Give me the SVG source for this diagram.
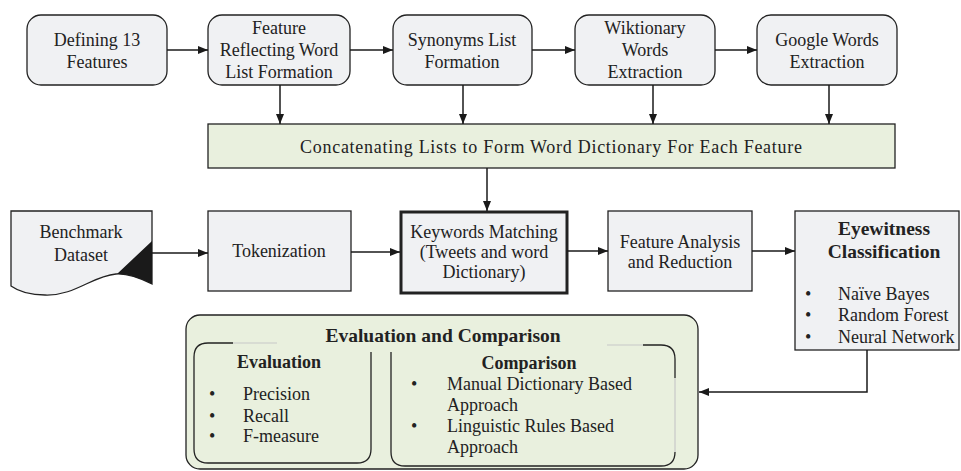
<svg xmlns="http://www.w3.org/2000/svg" width="961" height="471" viewBox="0 0 961 471">
<defs>
<marker id="ah" markerWidth="10" markerHeight="8" refX="10" refY="4" orient="auto" markerUnits="userSpaceOnUse">
<path d="M0,0 L10,4 L0,8 Z" fill="#1a1a1a"/>
</marker>
<style>
.box{fill:#f0f1f3;stroke:#222;stroke-width:1.3}
.grn{fill:#e9f0de;stroke:#222;stroke-width:1.3}
.t{font-family:"Liberation Serif","Times New Roman",serif;font-size:18px;fill:#222;text-anchor:middle}
.l{font-family:"Liberation Serif","Times New Roman",serif;font-size:18px;fill:#222}
.b{font-family:"Liberation Serif","Times New Roman",serif;font-size:19.5px;font-weight:bold;fill:#222;text-anchor:middle}
.c{fill:none;stroke:#1a1a1a;stroke-width:1.5;marker-end:url(#ah)}
.ln{fill:none;stroke:#222;stroke-width:1.3}
.lt{fill:none;stroke:#c8c8c8;stroke-width:1.2}
</style>
</defs>
<rect width="961" height="471" fill="#fff"/>

<g id="n1"><rect class="box" x="27" y="15" width="140" height="70" rx="14"/>
<text class="t" x="97" y="46">Defining 13</text><text class="t" x="97" y="68">Features</text></g>
<g id="n2"><rect class="box" x="208" y="15" width="142" height="70" rx="14"/>
<text class="t" x="279" y="34">Feature</text><text class="t" x="279" y="56">Reflecting Word</text><text class="t" x="279" y="78">List Formation</text></g>
<g id="n3"><rect class="box" x="393" y="15" width="139" height="70" rx="14"/>
<text class="t" x="462" y="46">Synonyms List</text><text class="t" x="462" y="68">Formation</text></g>
<g id="n4"><rect class="box" x="575" y="15" width="140" height="70" rx="14"/>
<text class="t" x="645" y="34">Wiktionary</text><text class="t" x="645" y="56">Words</text><text class="t" x="645" y="78">Extraction</text></g>
<g id="n5"><rect class="box" x="757" y="15" width="140" height="70" rx="14"/>
<text class="t" x="827" y="46">Google Words</text><text class="t" x="827" y="68">Extraction</text></g>

<g id="n6"><rect class="grn" x="208" y="124" width="687" height="44"/>
<text class="t" x="551" y="153" textLength="502" lengthAdjust="spacing">Concatenating Lists to Form Word Dictionary For Each Feature</text></g>

<g id="n7">
<path class="box" d="M11,211 H152 V284 C140,278 128,273 116,274 C92,276 75,296 45,295 C30,295 18,291 11,286 Z"/>
<path d="M152,241 L117,274 C130,274 142,279 152,284 Z" fill="#1a1a1a"/>
<text class="t" x="81" y="238">Benchmark</text><text class="t" x="81" y="261">Dataset</text></g>
<g id="n8"><rect class="box" x="208" y="211" width="143" height="80"/>
<text class="t" x="279" y="257">Tokenization</text></g>
<g id="n9"><rect class="box" x="401" y="212" width="166" height="81" style="stroke-width:3"/>
<text class="t" x="484" y="238">Keywords Matching</text><text class="t" x="484" y="258">(Tweets and word</text><text class="t" x="484" y="278">Dictionary)</text></g>
<g id="n10"><rect class="box" x="608" y="211" width="144" height="80"/>
<text class="t" x="680" y="248">Feature Analysis</text><text class="t" x="680" y="268">and Reduction</text></g>
<g id="n11"><rect class="box" x="795" y="211" width="164" height="139"/>
<text class="b" x="884" y="235">Eyewitness</text><text class="b" x="884" y="258">Classification</text>
<text class="l" x="805" y="300">•</text><text class="l" x="838" y="300">Naïve Bayes</text>
<text class="l" x="805" y="321">•</text><text class="l" x="838" y="321">Random Forest</text>
<text class="l" x="805" y="343">•</text><text class="l" x="838" y="343">Neural Network</text></g>

<g id="n12"><rect class="grn" x="186" y="315" width="512" height="154" rx="14"/>
<text class="b" x="443" y="342">Evaluation and Comparison</text>
<path class="ln" d="M233,343 H208 Q194,343 194,357 V449 Q194,463 208,463 H357 Q371,463 371,449 V352"/>
<path class="lt" d="M233,343 H277"/>
<text class="b" x="279" y="368" style="font-size:18px">Evaluation</text>
<text class="l" x="209" y="400">•</text><text class="l" x="243" y="400">Precision</text>
<text class="l" x="209" y="422">•</text><text class="l" x="243" y="422">Recall</text>
<text class="l" x="209" y="442">•</text><text class="l" x="243" y="442">F-measure</text>
<path class="ln" d="M391,352 V452 Q391,466 405,466 H661 Q675,466 675,452"/>
<path class="ln" d="M643,345 H661 Q675,345 675,359 V378"/>
<path class="lt" d="M607,345 H643 M675,378 V452"/>
<text class="b" x="529" y="369" style="font-size:18px">Comparison</text>
<text class="l" x="411" y="390">•</text><text class="l" x="447" y="390">Manual Dictionary Based</text>
<text class="l" x="447" y="411">Approach</text>
<text class="l" x="411" y="432">•</text><text class="l" x="447" y="432">Linguistic Rules Based</text>
<text class="l" x="447" y="453">Approach</text></g>

<g id="connectors">
<path class="c" d="M167,50 H208"/>
<path class="c" d="M350,50 H393"/>
<path class="c" d="M532,50 H575"/>
<path class="c" d="M715,50 H757"/>
<path class="c" d="M280,85 V124"/>
<path class="c" d="M463,85 V124"/>
<path class="c" d="M653,85 V124"/>
<path class="c" d="M829,85 V124"/>
<path class="c" d="M487,168 V211"/>
<path class="c" d="M152,253 H208"/>
<path class="c" d="M351,252 H400"/>
<path class="c" d="M567,251 H608"/>
<path class="c" d="M752,251 H795"/>
<path class="c" d="M867,350 V392 H699"/>
</g>
</svg>
